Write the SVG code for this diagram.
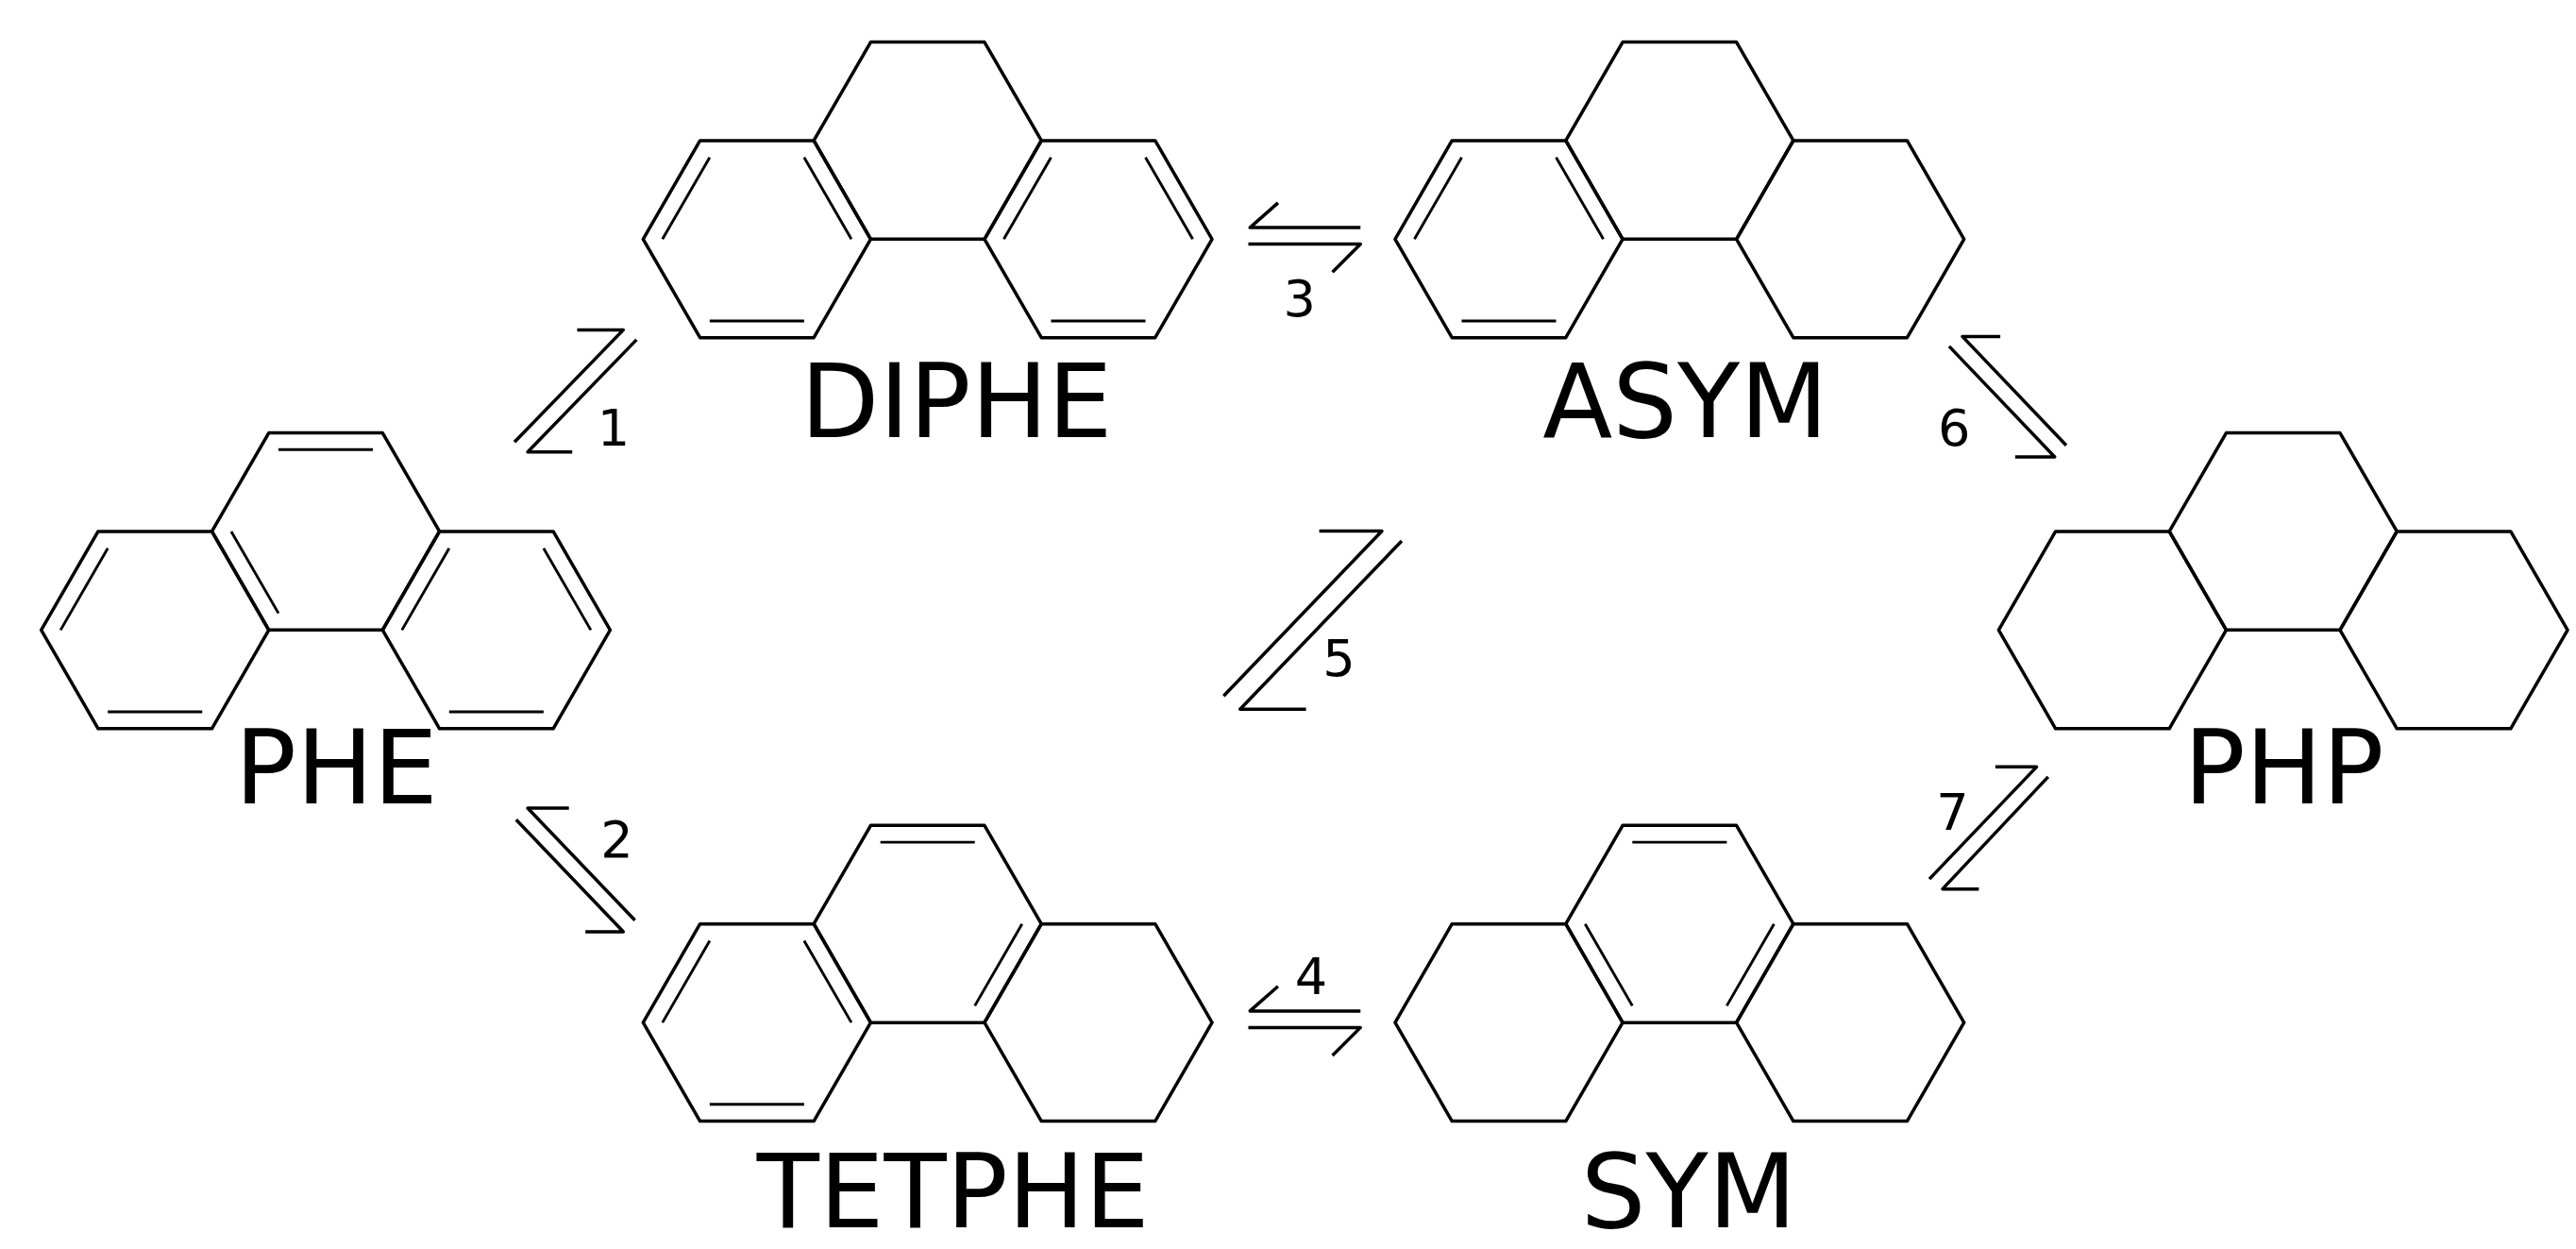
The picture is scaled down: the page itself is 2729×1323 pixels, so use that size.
<svg xmlns="http://www.w3.org/2000/svg" xmlns:xlink="http://www.w3.org/1999/xlink" width="2729" height="1323" viewBox="0 0 2729 1323">
<style>
.b{fill:none;stroke:#000;stroke-width:2;stroke-linejoin:round}
.d{stroke:#000;stroke-width:2}
.lbl{font-family:"DejaVu Sans",Verdana,sans-serif;font-size:62px;text-anchor:middle;fill:#000}
.num{font-family:"DejaVu Sans",Verdana,sans-serif;font-size:31px;text-anchor:middle;fill:#000}
</style>
<defs>
<polygon id="hex" class="b" points="-69,0 -34.5,-59.76 34.5,-59.76 69,0 34.5,59.76 -34.5,59.76"/>
<line id="AB" class="d" x1="-69" y1="0" x2="-34.5" y2="-59.76" transform="scale(0.83)"/>
<line id="BC" class="d" x1="-34.5" y1="-59.76" x2="34.5" y2="-59.76" transform="scale(0.83)"/>
<line id="CD" class="d" x1="34.5" y1="-59.76" x2="69" y2="0" transform="scale(0.83)"/>
<line id="DE" class="d" x1="69" y1="0" x2="34.5" y2="59.76" transform="scale(0.83)"/>
<line id="EF" class="d" x1="34.5" y1="59.76" x2="-34.5" y2="59.76" transform="scale(0.83)"/>
<line id="FA" class="d" x1="-34.5" y1="59.76" x2="-69" y2="0" transform="scale(0.83)"/>
</defs>
<rect width="2729" height="1323" fill="#fff"/>
<g transform="scale(1.747)">
<g id="PHE">
<g transform="translate(94,382)"><use href="#hex"/><use href="#AB"/><use href="#EF"/></g>
<g transform="translate(197.5,322.24)"><use href="#hex"/><use href="#BC"/><use href="#FA"/></g>
<g transform="translate(301,382)"><use href="#hex"/><use href="#AB"/><use href="#CD"/><use href="#EF"/></g>
<text class="lbl" x="204" y="487">PHE</text>
</g>
<g id="DIPHE">
<g transform="translate(459,145)"><use href="#hex"/><use href="#AB"/><use href="#CD"/><use href="#EF"/></g>
<g transform="translate(562.5,85.24)"><use href="#hex"/></g>
<g transform="translate(666,145)"><use href="#hex"/><use href="#AB"/><use href="#CD"/><use href="#EF"/></g>
<text class="lbl" x="580" y="265">DIPHE</text>
</g>
<g id="ASYM">
<g transform="translate(915,145)"><use href="#hex"/><use href="#AB"/><use href="#CD"/><use href="#EF"/></g>
<g transform="translate(1018.5,85.24)"><use href="#hex"/></g>
<g transform="translate(1122,145)"><use href="#hex"/></g>
<text class="lbl" x="1022" y="265">ASYM</text>
</g>
<g id="PHP">
<g transform="translate(1281,382)"><use href="#hex"/></g>
<g transform="translate(1384.5,322.24)"><use href="#hex"/></g>
<g transform="translate(1488,382)"><use href="#hex"/></g>
<text class="lbl" x="1385" y="487">PHP</text>
</g>
<g id="TETPHE">
<g transform="translate(459,620)"><use href="#hex"/><use href="#AB"/><use href="#CD"/><use href="#EF"/></g>
<g transform="translate(562.5,560.24)"><use href="#hex"/><use href="#BC"/><use href="#DE"/></g>
<g transform="translate(666,620)"><use href="#hex"/></g>
<text class="lbl" x="578" y="744">TETPHE</text>
</g>
<g id="SYM">
<g transform="translate(915,620)"><use href="#hex"/></g>
<g transform="translate(1018.5,560.24)"><use href="#hex"/><use href="#BC"/><use href="#DE"/><use href="#FA"/></g>
<g transform="translate(1122,620)"><use href="#hex"/></g>
<text class="lbl" x="1024" y="744">SYM</text>
</g>
<g id="connectors" class="b">
<polyline points="312,268 378,200 350,200"/>
<polyline points="347,274 320,274 386,206"/>
<polyline points="345,490 320,490 385,558"/>
<polyline points="313,497 378,565 355,565"/>
<polyline points="775,123 758,138 825,138"/>
<polyline points="757,148 825,148 808,165"/>
<polyline points="775,598 758,613 825,613"/>
<polyline points="757,623 825,623 808,640"/>
<polyline points="742,422 838,322 800,322"/>
<polyline points="792,430 752,430 850,328"/>
<polyline points="1213,204 1190,204 1253,270"/>
<polyline points="1182,210 1246,277 1222,277"/>
<polyline points="1170,533 1235,465 1210,465"/>
<polyline points="1200,539 1178,539 1242,471"/>
</g>
<g id="numbers">
<text class="num" x="372" y="270">1</text>
<text class="num" x="374" y="520">2</text>
<text class="num" x="788" y="192">3</text>
<text class="num" x="795" y="603">4</text>
<text class="num" x="812" y="410">5</text>
<text class="num" x="1185" y="270">6</text>
<text class="num" x="1184" y="503">7</text>
</g>
</g>
</svg>
